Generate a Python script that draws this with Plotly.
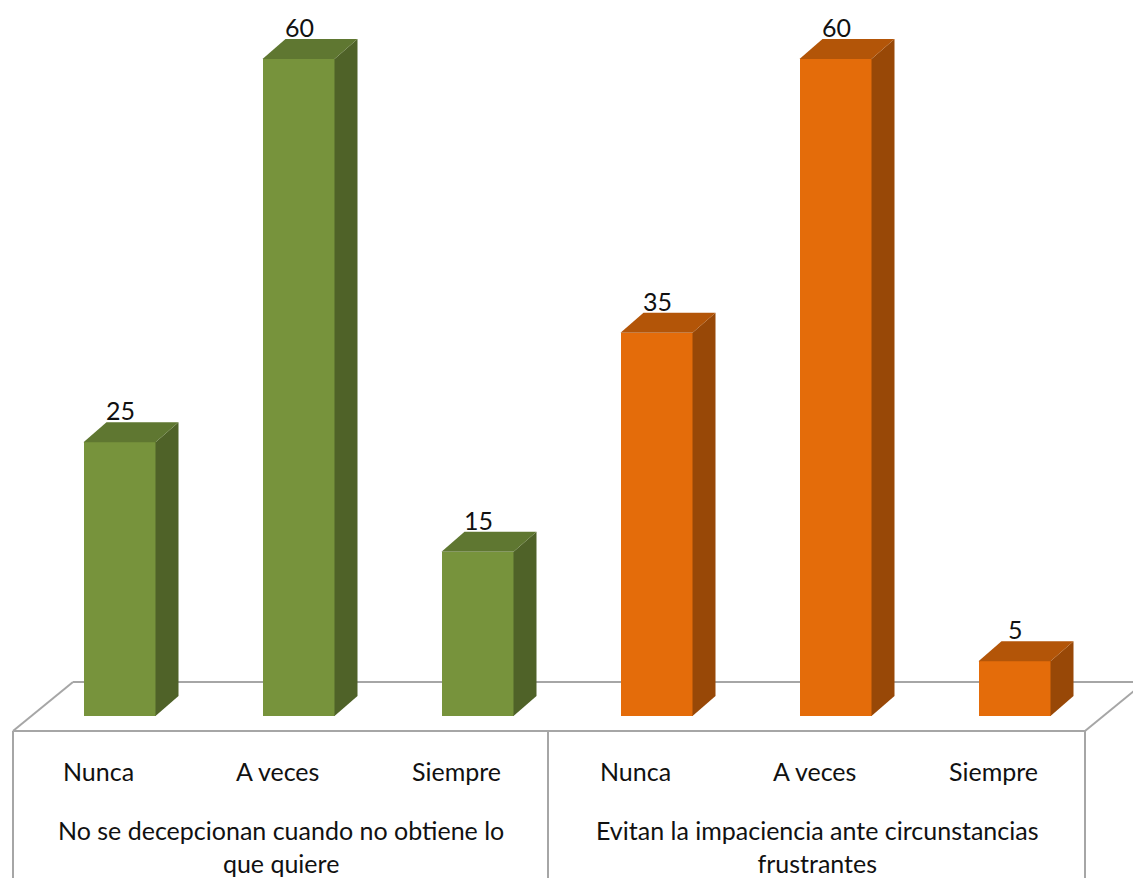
import plotly.graph_objects as go

# Survey answers for two statements
groups = ["No se decepcionan cuando no obtiene lo<br>que quiere",
          "Evitan la impaciencia ante circunstancias<br>frustrantes"]
categories = ["Nunca", "A veces", "Siempre"]
values_g1 = [25, 60, 15]
values_g2 = [35, 60, 5]

# Canvas / scale setup (x in pixels, y in value units)
W, H = 1133, 878
BASE_PX = 716          # pixel row of the value 0
PX_PER_UNIT = 10.95
def ypx(p):
    return (BASE_PX - p) / PX_PER_UNIT

y_lo, y_hi = ypx(H), ypx(0)

BAR_W = 72
STEP = 179
X0 = 119.5
DX, DY = 23, 20 / PX_PER_UNIT     # 3-D depth offsets

palettes = [
    dict(front="#77933C", side="#4F6228", top="#5F7731"),
    dict(front="#E46C0A", side="#984807", top="#B35508"),
]

FONT = "Lato, 'Open Sans', sans-serif"
fig = go.Figure()
shapes, annotations = [], []

# Floor: back edge, side edges and front boxes
grey = dict(color="#A6A6A6", width=2)
def seg(x0, p0, x1, p1, layer="below"):
    shapes.append(dict(type="line", x0=x0, y0=ypx(p0), x1=x1, y1=ypx(p1),
                       xref="x", yref="y", line=grey, layer=layer))

seg(73, 682, 1150, 682)
seg(13, 731, 73, 682)
seg(1085, 731, 1145, 682)
seg(13, 731, 1085, 731, "above")
for xv in (13, 548, 1085):
    seg(xv, 731, xv, 880, "above")

all_values = [values_g1, values_g2]
for g, vals in enumerate(all_values):
    pal = palettes[g]
    xs = [X0 + STEP * (3 * g + i) for i in range(len(vals))]
    fig.add_trace(go.Bar(
        x=xs, y=vals, width=BAR_W, marker=dict(color=pal["front"], line=dict(width=0)),
        hoverinfo="skip", showlegend=False))
    for x, v in zip(xs, vals):
        l, r = x - BAR_W / 2, x + BAR_W / 2
        # side face
        shapes.append(dict(type="path", xref="x", yref="y", layer="above",
                           path=f"M{r},0 L{r + DX},{DY} L{r + DX},{v + DY} L{r},{v} Z",
                           fillcolor=pal["side"], line=dict(width=0)))
        # top face
        shapes.append(dict(type="path", xref="x", yref="y", layer="above",
                           path=f"M{l},{v} L{l + DX},{v + DY} L{r + DX},{v + DY} L{r},{v} Z",
                           fillcolor=pal["top"], line=dict(width=0)))
        annotations.append(dict(x=x + 1, y=v + DY, xref="x", yref="y", text=str(v),
                                showarrow=False, yanchor="bottom", yshift=-5,
                                font=dict(family=FONT, size=25, color="#111111")))
    for x, c in zip(xs, categories):
        annotations.append(dict(x=x - 21, y=ypx(771), xref="x", yref="y", text=c,
                                showarrow=False, yanchor="middle",
                                font=dict(family=FONT, size=25, color="#111111")))
    annotations.append(dict(x=(13 + 548) / 2 + g * 536, y=ypx(846), xref="x", yref="y",
                            text=groups[g], showarrow=False, yanchor="middle",
                            font=dict(family=FONT, size=25, color="#111111")))

fig.update_layout(
    width=W, height=H, margin=dict(l=0, r=0, t=0, b=0),
    paper_bgcolor="white", plot_bgcolor="white",
    xaxis=dict(range=[0, W], visible=False, fixedrange=True),
    yaxis=dict(range=[y_lo, y_hi], visible=False, fixedrange=True),
    shapes=shapes, annotations=annotations, bargap=0,
)
fig.write_html("out.html")
